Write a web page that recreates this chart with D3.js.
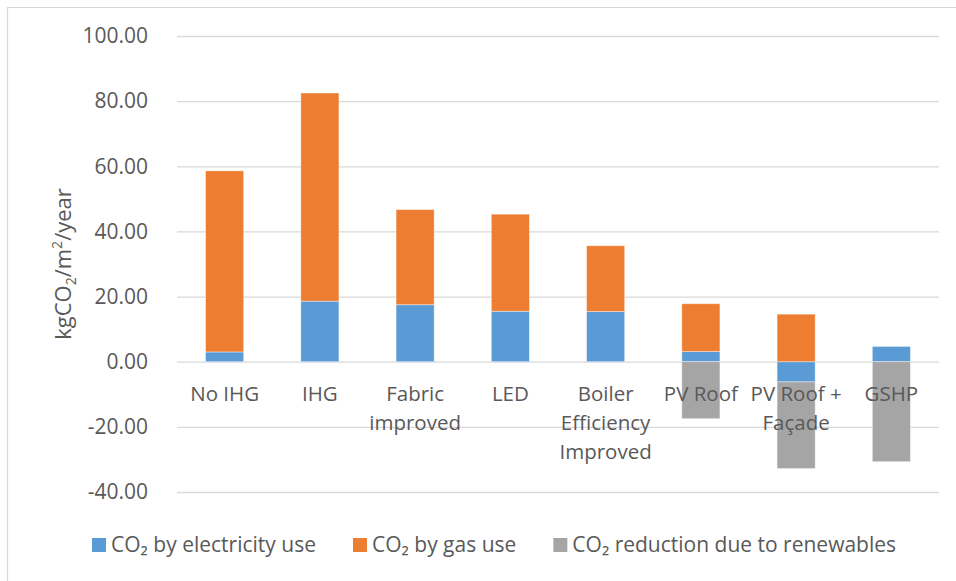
<!DOCTYPE html>
<html>
<head>
<meta charset="utf-8">
<script src="https://cdn.jsdelivr.net/npm/d3@7"></script>
<style>
  html, body { margin: 0; padding: 0; background: #fff; }
  svg { display: block; font-family: "Open Sans", "Noto Sans", sans-serif; }
</style>
</head>
<body>
<svg id="chart" width="956" height="581"></svg>
<script>
// ---- data ----
const categories = ["No IHG", "IHG", "Fabric improved", "LED", "Boiler Efficiency Improved", "PV Roof", "PV Roof + Façade", "GSHP"];
const categoryLines = [["No IHG"], ["IHG"], ["Fabric", "improved"], ["LED"], ["Boiler", "Efficiency", "Improved"], ["PV Roof"], ["PV Roof +", "Façade"], ["GSHP"]];
const electricity = [3.0, 18.6, 17.5, 15.5, 15.4, 3.1, -6.2, 4.7];
const gas = [55.6, 63.9, 29.2, 29.8, 20.2, 14.7, 14.6, 0];
const renewables = [0, 0, 0, 0, 0, -17.5, -26.6, -30.7];
const seriesNames = ["CO₂ by electricity use", "CO₂ by gas use", "CO₂ reduction due to renewables"];
const seriesKeys = ["electricity", "gas", "renewables"];
const colors = ["#5B9BD5", "#ED7D31", "#A5A5A5"];
const yTicks = [-40, -20, 0, 20, 40, 60, 80, 100];

// ---- layout ----
const svg = d3.select("#chart");
const plotLeft = 177, plotRight = 939, plotTop = 36, plotBottom = 492;
const textColor = "#595959";
const gridColor = "#D9D9D9";

const rows = categories.map((c, i) => ({
  category: c, electricity: electricity[i], gas: gas[i], renewables: renewables[i]
}));

const x = d3.scaleBand().domain(categories).range([plotLeft, plotRight]).paddingInner(0.6).paddingOuter(0.3);
const y = d3.scaleLinear().domain([-40, 100]).range([plotBottom, plotTop]);
const fmt = d3.formatLocale({ decimal: ".", thousands: ",", grouping: [3], currency: ["", ""], minus: "-" }).format(".2f");

// chart border (top and left visible)
svg.append("line").attr("x1", 7.5).attr("x2", 7.5).attr("y1", 7).attr("y2", 581).attr("stroke", gridColor).attr("stroke-width", 1.2);
svg.append("line").attr("x1", 7).attr("x2", 956).attr("y1", 7.5).attr("y2", 7.5).attr("stroke", gridColor).attr("stroke-width", 1.2);

// y axis with gridlines
const yAxis = d3.axisLeft(y).tickValues(yTicks).tickFormat(fmt)
  .tickSizeInner(-(plotRight - plotLeft)).tickSizeOuter(0).tickPadding(29);
const gy = svg.append("g").attr("transform", `translate(${plotLeft},0)`).call(yAxis);
gy.select(".domain").remove();
gy.selectAll(".tick line").attr("stroke", gridColor).attr("stroke-width", 1.3);
gy.selectAll(".tick text").attr("fill", textColor).attr("font-size", 21)
  .attr("font-family", "'Open Sans', sans-serif");

// stacked bars
const stack = d3.stack().keys(seriesKeys).offset(d3.stackOffsetDiverging);
const stacked = stack(rows);
svg.append("g").selectAll("g").data(stacked).join("g")
  .attr("fill", (d, i) => colors[i])
  .selectAll("rect").data(d => d.filter(p => p[1] !== p[0]).map(p => ({ p, cat: p.data.category })))
  .join("rect")
  .attr("x", d => x(d.cat))
  .attr("width", x.bandwidth())
  .attr("y", d => y(Math.max(d.p[0], d.p[1])))
  .attr("height", d => Math.abs(y(d.p[0]) - y(d.p[1])))
  .attr("stroke", "#ffffff").attr("stroke-opacity", 0.5).attr("stroke-width", 0.8);

// category labels (drawn over bars)
const lab = svg.append("g");
categories.forEach((c, i) => {
  const t = lab.append("text")
    .attr("x", x(c) + x.bandwidth() / 2)
    .attr("y", 401)
    .attr("text-anchor", "middle")
    .attr("fill", textColor)
    .attr("font-size", 20.5);
  categoryLines[i].forEach((ln, j) => {
    t.append("tspan").attr("x", x(c) + x.bandwidth() / 2).attr("dy", j === 0 ? 0 : 29).text(ln);
  });
});

// y axis title
const yt = svg.append("text")
  .attr("transform", `translate(71, ${(plotTop + plotBottom) / 2}) rotate(-90)`)
  .attr("text-anchor", "middle")
  .attr("fill", textColor)
  .attr("font-size", 22);
yt.append("tspan").text("kgCO");
yt.append("tspan").attr("font-size", 14).attr("dy", 5).text("2");
yt.append("tspan").attr("dy", -5).text("/m");
yt.append("tspan").attr("font-size", 14).attr("dy", -9).text("2");
yt.append("tspan").attr("dy", 9).text("/year");

// legend
let lx = 92;
const legend = svg.append("g");
seriesNames.forEach((name, i) => {
  legend.append("rect").attr("x", lx).attr("y", 538).attr("width", 14).attr("height", 14).attr("fill", colors[i]);
  const t = legend.append("text").attr("x", lx + 19).attr("y", 552)
    .attr("fill", textColor).attr("font-size", 21).text(name);
  const w = t.node().getComputedTextLength();
  lx = lx + 19 + w + 37;
});
</script>
</body>
</html>
